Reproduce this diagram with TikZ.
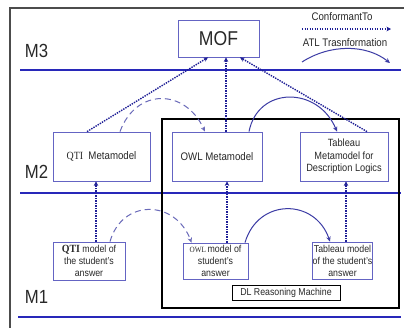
\documentclass[tikz,border=0pt]{standalone}
\usepackage{fontspec}
\setmainfont{Liberation Sans}[FakeStretch=0.88]
\newfontfamily\qser{Liberation Serif}[FakeStretch=0.9]
\usetikzlibrary{arrows.meta,calc}
\definecolor{boxblue}{RGB}{100,100,195}
\definecolor{lineblue}{RGB}{40,40,185}
\definecolor{dotblue}{RGB}{30,30,150}
\definecolor{arcblue}{RGB}{60,60,165}
\definecolor{dasharc}{RGB}{105,105,185}
\definecolor{txt}{RGB}{40,40,40}
\tikzset{
  mbox/.style={draw=boxblue,line width=0.8pt,fill=white,align=center,inner sep=0.5pt,text=txt,font=\fontsize{10}{12}\selectfont},
  conf/.style={dotblue,line width=1.4pt,dash pattern=on 1.4pt off 1.1pt,-{Stealth[length=4.5pt,width=4.5pt]}},
  atl/.style={arcblue,line width=1pt,-{Stealth[length=5pt,width=4.5pt]}},
  atld/.style={dasharc,line width=1pt,dash pattern=on 6pt off 4pt,-{Stealth[length=5pt,width=4.5pt]}},
  level/.style={lineblue,line width=1.3pt},
  lvl/.style={text=txt,font=\fontsize{19}{21}\selectfont,inner sep=0pt}
}
\begin{document}
\begin{tikzpicture}[x=1pt,y=-1pt]
\useasboundingbox (0,0) rectangle (404,327);
\clip (0,0) rectangle (404,327);
\fill[white] (0,0) rectangle (404,327);
% outer frame
\draw[black!70,line width=1.3pt] (10,8) rectangle (412,335);
% level lines
\draw[level] (20,70) -- (401,70);
\draw[level] (20,193) -- (401,193);
\draw[level] (18,317) -- (401,317);
% level labels
\node[lvl] (m3) at (36.5,51) {M3};
\node[lvl] (m2) at (36.5,172) {M2};
\node[lvl] (m1) at (36.5,297) {M1};
% DL reasoning container
\draw[black,line width=1.8pt] (162,119) rectangle (399,308);
% nodes
\node[mbox,minimum width=81pt,minimum height=37pt,font=\fontsize{20}{22}\selectfont] (mof) at (218.5,38.5) {MOF};
\node[mbox,minimum width=97pt,minimum height=49pt,font=\fontsize{11}{13}\selectfont] (qtimm) at (101.5,156.5) {{\qser QTI}\ \ Metamodel};
\node[mbox,minimum width=90pt,minimum height=49pt,font=\fontsize{11}{13}\selectfont] (owlmm) at (217,156.5) {OWL Metamodel};
\node[mbox,minimum width=88pt,minimum height=49pt,font=\fontsize{10.5}{12.5}\selectfont] (tabmm) at (344,156.5) {Tableau\\Metamodel for\\Description Logics};
\node[mbox,minimum width=72pt,minimum height=38pt] (qtim) at (89,261) {{\qser\bfseries\fontsize{11}{12}\selectfont QTI} model of\\the student's\\answer};
\node[mbox,minimum width=65pt,minimum height=36pt] (owlm) at (215.5,261) {{\qser\fontsize{8}{9}\selectfont OWL}\,model of\\student's\\answer};
\node[mbox,minimum width=59pt,minimum height=37pt] (tabm) at (342.5,260.5) {Tableau model\\of the student's\\answer};
\node[mbox,draw=black,line width=1pt,minimum width=108pt,minimum height=15pt] (dl) at (286,292.5) {DL Reasoning Machine};
% legend
\node[text=txt,font=\fontsize{11}{12}\selectfont,inner sep=0pt] (lconf) at (342,17) {ConformantTo};
\node[text=txt,font=\fontsize{11}{12}\selectfont,inner sep=0pt] (latl) at (345,43) {ATL Trasnformation};
\coordinate (c1) at (302,29);
\coordinate (c2) at (391,29);
\coordinate (a1) at (302,62);
\coordinate (a2) at (390,63);
\draw[conf] (c1) -- (c2);
\draw[atl] (a1) .. controls (330,44) and (366,44) .. (a2);
% conformance (dotted)
\draw[conf] ([xshift=-14.5pt]qtimm.north) -- ([xshift=-10.5pt]mof.south);
\draw[conf] ([xshift=9pt]owlmm.north) -- ([xshift=7.5pt]mof.south);
\draw[conf] ([xshift=23pt]tabmm.north) -- ([xshift=21.5pt]mof.south);
\draw[conf] ([xshift=7pt]qtim.north) -- ([xshift=-5.5pt]qtimm.south);
\draw[conf] ([xshift=11.5pt]owlm.north) -- ([xshift=10pt]owlmm.south);
\draw[conf] ([xshift=3.5pt]tabm.north) -- ([xshift=2pt]tabmm.south);
% transformations
\draw[atld] ([xshift=18.5pt]qtimm.north) .. controls (136,88) and (185,88) .. ([xshift=-12pt]owlmm.north);
\draw[atl] ([xshift=32pt]owlmm.north) .. controls (258,86) and (318,86) .. ([xshift=-7pt]tabmm.north);
\draw[atld] ([xshift=21pt]qtim.north) .. controls (122,199) and (175,199) .. ([xshift=-24pt]owlm.north);
\draw[atl] ([xshift=29.5pt]owlm.north) .. controls (258,198) and (315,198) .. ([xshift=-12.5pt]tabm.north);
\end{tikzpicture}
\end{document}
